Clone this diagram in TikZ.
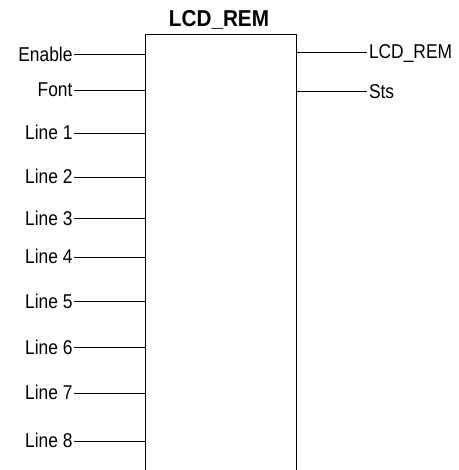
\documentclass[tikz,border=0pt]{standalone}
\usepackage{fontspec}
\setmainfont{Liberation Sans}[FakeStretch=0.87]
\newfontfamily\titlefont{Liberation Sans}[FakeStretch=0.9]
\usetikzlibrary{positioning, calc}

\begin{document}
\begin{tikzpicture}[
    x=1pt, y=-1pt,
    line width=1pt,
    wire/.style={
        -,
        line width=1pt
    },
    pinin/.style={
        anchor=base east,
        inner sep=1pt,
        font=\fontsize{20}{24}\selectfont
    },
    pinout/.style={
        anchor=base west,
        inner sep=1.5pt,
        font=\fontsize{20}{24}\selectfont
    },
    blocktitle/.style={
        anchor=base,
        inner sep=0pt,
        font=\fontsize{23}{26}\titlefont\bfseries
    }
]

    % Frame
    \useasboundingbox (0,0) rectangle (458,470);

    % Block outline (open at the bottom)
    \coordinate (bl) at (145.5,470);
    \coordinate (tl) at (145.5,35);
    \coordinate (tr) at (296.5,35);
    \coordinate (br) at (296.5,470);
    \draw (bl) -- (tl) -- (tr) -- (br);

    % Title
    \coordinate (tm) at ($(tl)!0.5!(tr)$);
    \node[blocktitle] (title) at ($(tm)+(-2,-8.5)$) {LCD\_REM};

    % Inputs (baseline sits 6.5pt under the wire)
    \node[pinin] (en) at (74,61.2) {Enable};
    \node[pinin] (font) at (74,96.8) {Font};
    \node[pinin] (l1) at (74,139.8) {Line 1};
    \node[pinin] (l2) at (74,183.8) {Line 2};
    \node[pinin] (l3) at (74,225.2) {Line 3};
    \node[pinin] (l4) at (74,263.8) {Line 4};
    \node[pinin] (l5) at (74,308.2) {Line 5};
    \node[pinin] (l6) at (74,354.2) {Line 6};
    \node[pinin] (l7) at (74,399.8) {Line 7};
    \node[pinin] (l8) at (74,447.8) {Line 8};

    \foreach \p in {en, font, l1, l2, l3, l4, l5, l6, l7, l8} {
        \coordinate (\p-w) at ($(\p.base east)+(0,-6.5)$);
        \draw[wire] (\p-w) -- (\p-w -| tl);
    }

    % Outputs
    \node[pinout] (lcd) at (367,58.8) {LCD\_REM};
    \node[pinout] (sts) at (367,98.2) {Sts};

    \coordinate (lcd-w) at ($(lcd.base west)+(0,-6.5)$);
    \coordinate (sts-w) at ($(sts.base west)+(0,-6.5)$);
    \draw[wire] (lcd-w -| tr) -- (lcd-w);
    \draw[wire] (sts-w -| tr) -- (sts-w);

\end{tikzpicture}
\end{document}
